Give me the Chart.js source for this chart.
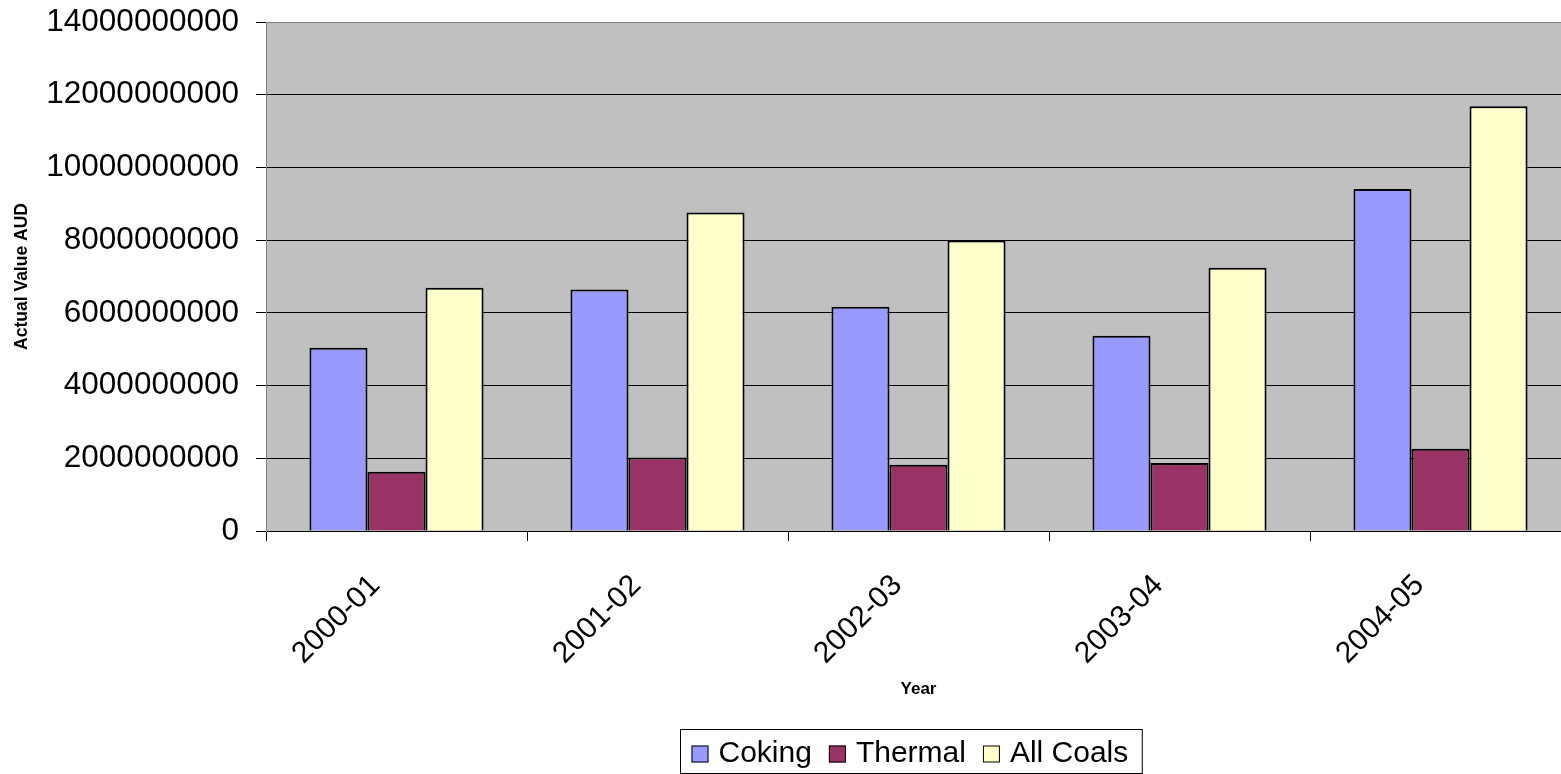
<!DOCTYPE html>
<html>
<head>
<meta charset="utf-8">
<script src="https://cdn.jsdelivr.net/npm/chart.js@4/dist/chart.umd.min.js"></script>
<style>
  html, body { margin: 0; padding: 0; background: #fff; overflow: hidden; }
  #wrap { width: 1580px; height: 774px; }
</style>
</head>
<body>
<div id="wrap"><canvas id="coalChart" width="1580" height="774"></canvas></div>
<script>
// データ (読み取り値)
const years = ['2000-01', '2001-02', '2002-03', '2003-04', '2004-05'];
const coking = [5040000000, 6640000000, 6170000000, 5370000000, 9410000000];
const thermal = [1630000000, 2020000000, 1820000000, 1870000000, 2260000000];
const allCoals = [6690000000, 8760000000, 7990000000, 7240000000, 11680000000];
const yTicks = [0, 2000000000, 4000000000, 6000000000, 8000000000, 10000000000, 12000000000, 14000000000];

const seriesNames = ['Coking', 'Thermal', 'All Coals'];
const seriesColors = ['#9999FF', '#993366', '#FFFFCC'];

const FONT = 'Arial, "Liberation Sans", sans-serif';

// プロット背景
const plotBackground = {
    id: 'plotBackground',
    beforeDraw(chart) {
        const { ctx, chartArea } = chart;
        ctx.save();
        ctx.fillStyle = '#C0C0C0';
        ctx.fillRect(chartArea.left, chartArea.top, chartArea.right - chartArea.left, chartArea.bottom - chartArea.top);
        ctx.restore();
    }
};

// 凡例 (枠付き)
const boxedLegend = {
    id: 'boxedLegend',
    afterDraw(chart) {
        const { ctx, chartArea } = chart;
        const sw = 17, gapText = 10, gapItem = 17, padL = 11, padR = 14;
        ctx.save();
        ctx.font = '30px ' + FONT;
        const items = chart.data.datasets.map(ds => ({ label: ds.label, color: ds.backgroundColor, w: ctx.measureText(ds.label).width }));
        let total = padL + padR;
        items.forEach((it, i) => { total += sw + gapText + it.w + (i < items.length - 1 ? gapItem : 0); });
        const cx = (chartArea.left + chartArea.right) / 2 - 8;
        const boxL = Math.round(cx - total / 2) + 0.5;
        const boxT = 729.5, boxB = 773.5;
        ctx.strokeStyle = '#000';
        ctx.lineWidth = 1;
        ctx.strokeRect(boxL, boxT, total, boxB - boxT);
        let x = boxL + padL;
        const midY = 754;
        items.forEach(it => {
            ctx.fillStyle = it.color;
            ctx.fillRect(x, midY - 8.5, sw, sw);
            ctx.strokeStyle = '#000';
            ctx.strokeRect(x + 0.5, midY - 8, sw - 1, sw - 1);
            x += sw + gapText;
            ctx.fillStyle = '#000';
            ctx.textBaseline = 'middle';
            ctx.textAlign = 'left';
            ctx.fillText(it.label, x, midY);
            x += it.w + gapItem;
        });
        ctx.restore();
    }
};

const seriesData = [coking, thermal, allCoals];

new Chart(document.getElementById('coalChart'), {
    type: 'bar',
    data: {
        labels: years,
        datasets: seriesNames.map((name, i) => ({
            label: name,
            data: seriesData[i],
            backgroundColor: seriesColors[i],
            borderColor: '#000',
            borderWidth: 2,
            categoryPercentage: 0.667,
            barPercentage: 1.0
        }))
    },
    options: {
        responsive: false,
        animation: false,
        layout: { padding: { top: 22, right: 9, bottom: 74, left: 0 } },
        plugins: {
            legend: { display: false },
            tooltip: { enabled: false }
        },
        scales: {
            x: {
                offset: true,
                grid: { display: true, drawOnChartArea: false, drawTicks: true, tickLength: 10, color: '#000', offset: true },
                border: { display: true, color: '#000', width: 1 },
                ticks: { color: '#000', font: { size: 30, family: FONT }, minRotation: 45, maxRotation: 45, padding: 27, labelOffset: -21, autoSkip: false },
                title: { display: true, text: 'Year', color: '#000', font: { size: 17, weight: 'bold', family: FONT }, padding: { top: 0, bottom: 0 } },
                afterFit(scale) {
                    scale.height = 169;
                    scale.paddingTop = 0; scale.paddingBottom = 0;
                    scale.paddingLeft = 0; scale.paddingRight = 0;
                }
            },
            y: {
                min: 0,
                max: 14000000000,
                afterBuildTicks(scale) { scale.ticks = yTicks.map(v => ({ value: v })); },
                grid: {
                    color: ctx => (ctx.tick && ctx.tick.value === 14000000000) ? '#808080' : '#000',
                    tickColor: '#000',
                    tickLength: 10,
                    lineWidth: 1
                },
                border: { display: true, color: '#808080', width: 1 },
                ticks: { color: '#000', font: { size: 31.5, family: FONT }, padding: 17, callback: v => String(v) },
                title: { display: true, text: 'Actual Value AUD', color: '#000', font: { size: 17.5, weight: 'bold', family: FONT }, padding: { top: 12, bottom: 0 } },
                afterFit(scale) {
                    scale.width = 266;
                    scale.paddingTop = 0; scale.paddingBottom = 0;
                }
            }
        }
    },
    plugins: [plotBackground, boxedLegend]
});
</script>
</body>
</html>
